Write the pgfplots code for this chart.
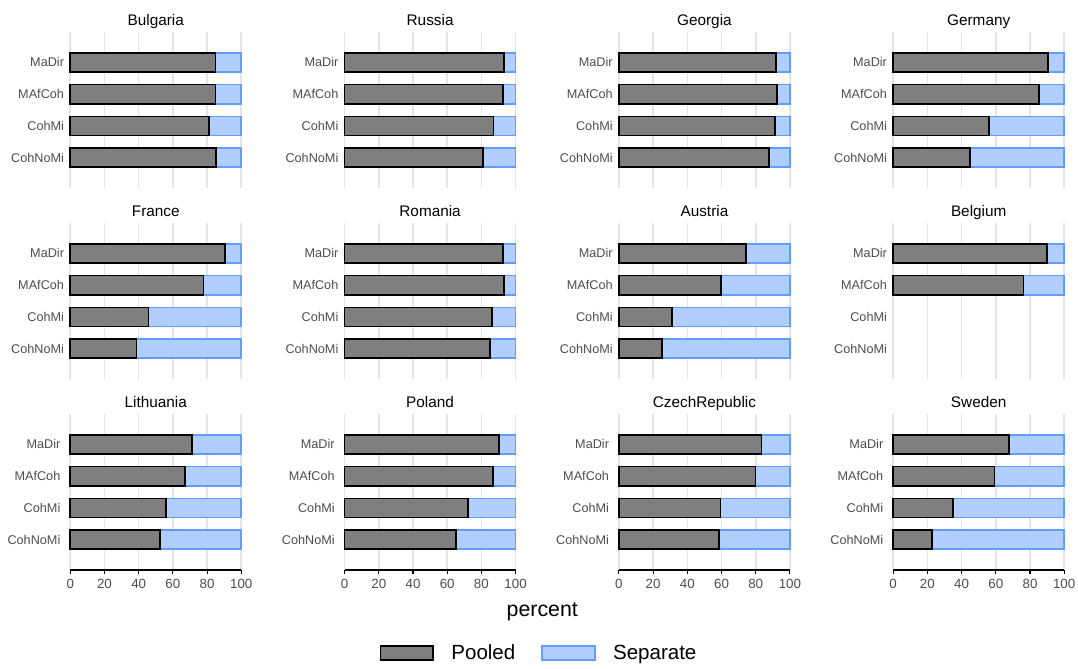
\documentclass[border=0pt]{standalone}
\usepackage{pgfplots}
\pgfplotsset{compat=1.18}
\usepackage{fontspec}
\setmainfont{Liberation Sans}
\definecolor{sepfill}{RGB}{176,206,255}
\definecolor{sepdraw}{RGB}{97,156,255}
\definecolor{poolfill}{RGB}{127,127,127}
\definecolor{gridc}{RGB}{228,228,228}
\definecolor{tickc}{RGB}{77,77,77}
\pgfplotsset{
  panel/.style={
    xbar stacked, bar width=0.6,
    scale only axis, width=128.25pt, height=117pt, anchor=south west,
    xmin=0, xmax=100, ymin=0.05, ymax=4.95,
    ytick={1,2,3,4}, yticklabels={CohNoMi,CohMi,MAfCoh,MaDir},
    xtick={0,20,40,60,80,100},
    xmajorgrids, major grid style={draw=gridc, line width=1.2pt},
    axis line style={draw=none},
    ytick style={draw=none},
    xtick style={draw=none},
    tick label style={font=\fontsize{9.5}{10}\selectfont, text=tickc},
    yticklabel style={inner sep=0pt, xshift=-4.5pt},
    /pgf/number format/assume math mode=true,
    title style={at={(0.5,1)}, anchor=base, yshift=-0.75pt, font=\fontsize{11.5}{12}\selectfont, text=black, inner sep=0pt},
    clip=false,
  },
  toprow/.style={xticklabels={}},
  bottomrow/.style={
    tick align=outside, xtick pos=bottom, major tick length=2.75pt,
    xtick style={draw=black, line width=0.8pt},
    xticklabel style={inner sep=0pt, yshift=-4pt, font=\fontsize{10}{11}\selectfont},
  },
  legendpanel/.style={
    legend columns=2,
    legend style={at={(-2.077,-0.532)}, anchor=center, draw=none, fill=none,
      font=\fontsize{15.4}{16}\selectfont, inner sep=0pt, nodes={inner sep=0pt},
      /tikz/every even column/.append style={column sep=19.5pt}},
  },
  pooled/.style={fill=poolfill, draw=black, line width=1.3pt,
    legend image code/.code={\draw[##1] (0pt,-5.5pt) rectangle (39.5pt,5.5pt); \path (52.5pt,0pt);}},
  separate/.style={fill=sepfill, draw=sepdraw, line width=1.3pt,
    legend image code/.code={\draw[##1] (0pt,-5.5pt) rectangle (39.5pt,5.5pt); \path (52.5pt,0pt);}},
}
\newcommand{\panel}[7]{%
  \begin{axis}[panel, at={(#1,#2)}, title={#3}, #6]
    \addplot[pooled] coordinates {#4};
    \addplot[separate] coordinates {#5};
    #7
  \end{axis}}
\newcommand{\axline}{\draw[black, line width=1.2pt] (rel axis cs:0,0) -- (rel axis cs:1,0);}
\begin{document}
\begin{tikzpicture}
% Row 1
\panel{52.7pt}{-141pt}{Bulgaria}{(85,4) (85,3) (81.1,2) (85.3,1)}{(15,4) (15,3) (18.9,2) (14.7,1)}{toprow}{}
\panel{258.45pt}{-141pt}{Russia}{(93.4,4) (92.8,3) (87.1,2) (81.1,1)}{(6.6,4) (7.2,3) (12.9,2) (18.9,1)}{toprow}{}
\panel{464.2pt}{-141pt}{Georgia}{(92.0,4) (92.4,3) (91.2,2) (87.8,1)}{(8.0,4) (7.6,3) (8.8,2) (12.2,1)}{toprow}{}
\panel{669.9pt}{-141pt}{Germany}{(90.6,4) (85.2,3) (56.1,2) (44.7,1)}{(9.4,4) (14.8,3) (43.9,2) (55.3,1)}{toprow}{}
% Row 2
\panel{52.7pt}{-284.25pt}{France}{(90.6,4) (77.9,3) (45.8,2) (38.8,1)}{(9.4,4) (22.1,3) (54.2,2) (61.2,1)}{toprow}{}
\panel{258.45pt}{-284.25pt}{Romania}{(92.8,4) (93.0,3) (86.0,2) (85.1,1)}{(7.2,4) (7.0,3) (14.0,2) (14.9,1)}{toprow}{}
\panel{464.2pt}{-284.25pt}{Austria}{(74.3,4) (59.6,3) (30.9,2) (25.1,1)}{(25.7,4) (40.4,3) (69.1,2) (74.9,1)}{toprow}{}
\panel{669.9pt}{-284.25pt}{Belgium}{(90.0,4) (76.2,3)}{(10.0,4) (23.8,3)}{toprow}{}
% Row 3
\panel{52.7pt}{-427.5pt}{Lithuania}{(71.3,4) (67.3,3) (56.0,2) (52.6,1)}{(28.7,4) (32.7,3) (44.0,2) (47.4,1)}{bottomrow}{\axline}
\panel{258.45pt}{-427.5pt}{Poland}{(90.4,4) (86.7,3) (72.3,2) (65.1,1)}{(9.6,4) (13.3,3) (27.7,2) (34.9,1)}{bottomrow}{\axline}
\panel{464.2pt}{-427.5pt}{CzechRepublic}{(83.3,4) (79.9,3) (59.4,2) (58.4,1)}{(16.7,4) (20.1,3) (40.6,2) (41.6,1)}{bottomrow}{\axline}
\panel{669.9pt}{-427.5pt}{Sweden}{(67.9,4) (59.3,3) (34.9,2) (22.8,1)}{(32.1,4) (40.7,3) (65.1,2) (77.2,1)}{bottomrow,legendpanel}{\axline \addlegendentry{Pooled} \addlegendentry{Separate}}
\node[anchor=base, font=\fontsize{16}{17}\selectfont] at (406.7pt,-462.4pt) {percent};
\pgfresetboundingbox
\path[use as bounding box] (0,0) rectangle (808.5pt,-501pt);
\end{tikzpicture}
\end{document}
